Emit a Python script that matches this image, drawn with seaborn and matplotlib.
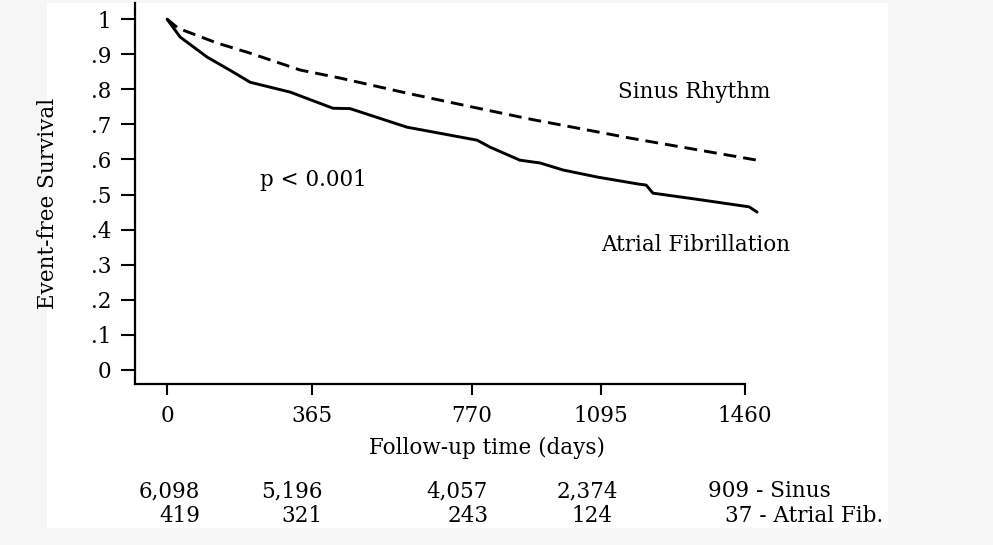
import matplotlib
matplotlib.use("Agg")
import matplotlib.pyplot as plt
import matplotlib.transforms as mtransforms
from matplotlib.patches import Rectangle
import pandas as pd
import seaborn as sns

# survival curves (days, event-free survival)
sinus_days = [0, 28, 126, 210, 336, 437, 606, 773, 917, 1169, 1490]
sinus_surv = [1.0, 0.974, 0.932, 0.903, 0.855, 0.832, 0.789, 0.749, 0.715, 0.661, 0.598]

af_days = [0, 33, 101, 167, 210, 311, 419, 462, 606, 783, 816, 891, 942, 1000,
           1086, 1190, 1210, 1227, 1354, 1439, 1470, 1490]
af_surv = [1.0, 0.949, 0.892, 0.849, 0.82, 0.792, 0.746, 0.745, 0.692, 0.655, 0.635,
           0.598, 0.59, 0.57, 0.55, 0.53, 0.527, 0.504, 0.484, 0.47, 0.465, 0.45]

x_ticks = [0, 365, 770, 1095, 1460]
y_ticks = [0, 0.1, 0.2, 0.3, 0.4, 0.5, 0.6, 0.7, 0.8, 0.9, 1.0]
y_ticklabels = ['0', '.1', '.2', '.3', '.4', '.5', '.6', '.7', '.8', '.9', '1']

# numbers at risk
sinus_risk = ['6,098', '5,196', '4,057', '2,374', '909 - Sinus']
af_risk = ['419', '321', '243', '124', '37 - Atrial Fib.']

sinus_df = pd.DataFrame({'days': sinus_days, 'surv': sinus_surv})
af_df = pd.DataFrame({'days': af_days, 'surv': af_surv})

sns.set_style('ticks')
plt.rcParams['font.family'] = ['DejaVu Serif']
plt.rcParams.update({'text.color': 'black', 'axes.labelcolor': 'black',
                     'xtick.color': 'black', 'ytick.color': 'black',
                     'axes.edgecolor': 'black'})
FS = 15.5

fig = plt.figure(figsize=(9.93, 5.45), dpi=100, facecolor='#f6f6f6')
# white panel behind the chart
fig.patches.append(Rectangle((47 / 993, 17 / 545), 841 / 993, 525 / 545,
                             transform=fig.transFigure, facecolor='white',
                             edgecolor='none', zorder=-10))
ax = fig.add_axes([135 / 993, 161 / 545, 626 / 993, 381 / 545])
ax.set_facecolor('none')

sns.lineplot(data=sinus_df, x='days', y='surv', ax=ax, color='black', lw=2.1,
             linestyle=(0, (4.4, 2.4)))
sns.lineplot(data=af_df, x='days', y='surv', ax=ax, color='black', lw=2.1)

ax.set_xlim(-81, 1500)
ax.set_ylim(-0.04, 1.046)
ax.set_xticks(x_ticks)
ax.set_xticklabels([str(t) for t in x_ticks])
ax.set_yticks(y_ticks)
ax.set_yticklabels(y_ticklabels)
ax.tick_params(axis='y', length=10, width=1.5, pad=7, labelsize=FS)
ax.tick_params(axis='x', length=8, width=1.5, pad=7, labelsize=FS)

for side in ['top', 'right']:
    ax.spines[side].set_visible(False)
ax.spines['left'].set_linewidth(1.6)
ax.spines['bottom'].set_linewidth(1.6)
ax.spines['bottom'].set_bounds(-81, 1460)

ax.set_xlabel('Follow-up time (days)', fontsize=FS)
ax.xaxis.set_label_coords(0.562, -0.14)
ax.set_ylabel('Event-free Survival', fontsize=FS)
ax.yaxis.set_label_coords(-0.122, 0.475)

ax.text(1331, 0.792, 'Sinus Rhythm', fontsize=FS, ha='center', va='center')
ax.text(1336, 0.356, 'Atrial Fibrillation', fontsize=FS, ha='center', va='center')
ax.text(369, 0.541, 'p < 0.001', fontsize=FS, ha='center', va='center')

trans = mtransforms.blended_transform_factory(ax.transData, ax.transAxes)
row1_right = [83, 392, 811, 1139]
row2_right = [83, 392, 811, 1124]
for i in range(4):
    ax.text(row1_right[i], -0.281, sinus_risk[i], transform=trans, fontsize=FS,
            ha='right', va='center', clip_on=False)
    ax.text(row2_right[i], -0.346, af_risk[i], transform=trans, fontsize=FS,
            ha='right', va='center', clip_on=False)
ax.text(1366, -0.281, sinus_risk[4], transform=trans, fontsize=FS,
        ha='left', va='center', clip_on=False)
ax.text(1409, -0.346, af_risk[4], transform=trans, fontsize=FS,
        ha='left', va='center', clip_on=False)

fig.savefig('out.png', dpi=100, facecolor=fig.get_facecolor())
